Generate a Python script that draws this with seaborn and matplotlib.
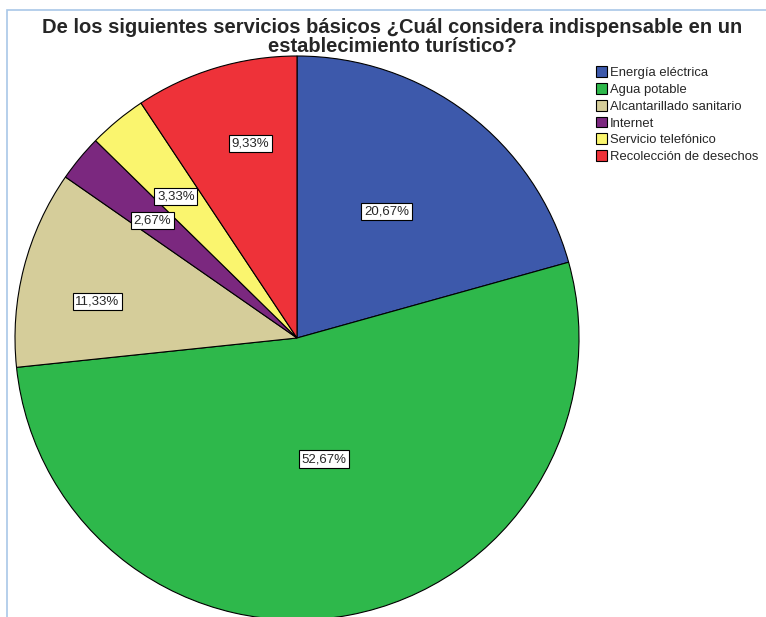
import numpy as np
import matplotlib
matplotlib.use("Agg")
import matplotlib.pyplot as plt
import seaborn as sns
from matplotlib.patches import Rectangle

# =====================================================
# DATA
# =====================================================
categorias = ["Energía eléctrica", "Agua potable", "Alcantarillado sanitario",
              "Internet", "Servicio telefónico", "Recolección de desechos"]
porcentajes = [20.67, 52.67, 11.33, 2.67, 3.33, 9.33]
etiquetas = ["20,67%", "52,67%", "11,33%", "2,67%", "3,33%", "9,33%"]

colores = ["#3D59AB", "#2EB84B", "#D5CD9A", "#7B287F", "#FAF56E", "#EE3239"]
# radial position of each label (fraction of radius) and small angle shift
dist_etiqueta = [0.55, 0.44, 0.72, 0.66, 0.66, 0.71]
giro_etiqueta = [2.0, 1.8, 4.0, 0.5, 1.0, -3.3]

# =====================================================
# FIGURE
# =====================================================
sns.set_theme(style="white")
plt.rcParams["font.family"] = ["Liberation Sans", "DejaVu Sans"]

W, H = 766, 617
fig = plt.figure(figsize=(W / 100, H / 100), dpi=100)
ax = fig.add_axes([0, 0, 1, 1])

# light blue frame
fig.patches.append(Rectangle((7 / W, -0.1), 1.2, (H - 10) / H + 0.1,
                             transform=fig.transFigure, fill=False,
                             edgecolor="#A9C7E8", linewidth=1.2))

cx, cy, r = 297, H - 338, 282
wedges, _ = ax.pie(porcentajes, colors=colores, startangle=90, counterclock=False,
                   center=(cx, cy), radius=r, frame=True,
                   wedgeprops=dict(edgecolor="black", linewidth=0.8))
ax.set_xlim(0, W)
ax.set_ylim(0, H)
ax.set_aspect("equal")
ax.axis("off")

for w, lab, d, g in zip(wedges, etiquetas, dist_etiqueta, giro_etiqueta):
    ang = np.deg2rad((w.theta1 + w.theta2) / 2 + g)
    x = cx + d * r * np.cos(ang)
    y = cy + d * r * np.sin(ang)
    ax.text(x, y, lab, ha="center", va="center", fontsize=9.5,
            bbox=dict(boxstyle="square,pad=0.2", facecolor="white",
                      edgecolor="black", linewidth=0.8))

fig.text(392 / W, 1 - 37 / H,
         "De los siguientes servicios básicos ¿Cuál considera indispensable en un\n"
         "establecimiento turístico?",
         ha="center", va="center", fontsize=14.5, fontweight="bold",
         linespacing=1.0)

leg = ax.legend(wedges, categorias, loc="upper left",
                bbox_to_anchor=(587 / W, 1 - 57 / H), frameon=False,
                fontsize=9.4, handlelength=0.85, handleheight=0.9,
                handletextpad=0.2, labelspacing=0.3, borderpad=0.2)

fig.savefig("out.png", dpi=100)
